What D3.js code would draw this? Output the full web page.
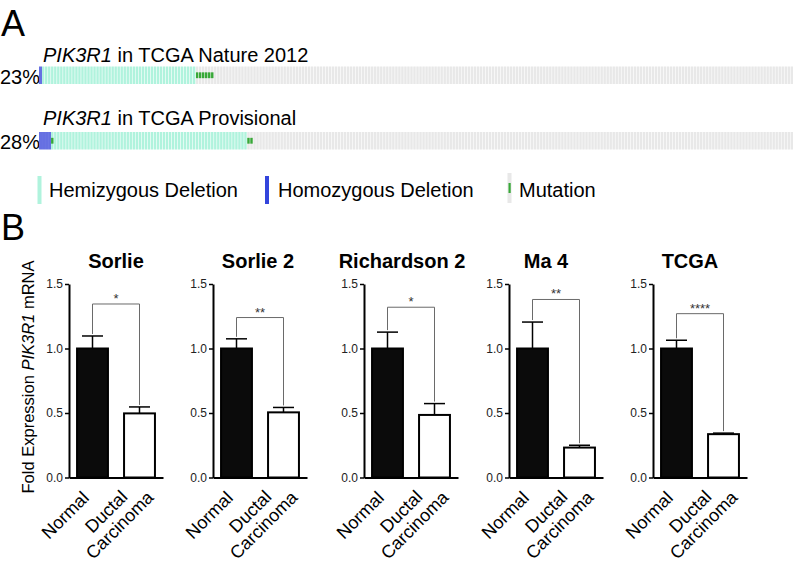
<!DOCTYPE html>
<html lang="en">
<head>
<meta charset="UTF-8">
<title>PIK3R1 alterations and expression</title>
<script src="https://cdn.jsdelivr.net/npm/d3@7"></script>
<style>
    body { margin: 0; background: #fff; }
    svg text { font-family: "Liberation Sans", Arial, Helvetica, sans-serif; }
</style>
</head>
<body>
<script>
// ---------- panel A: oncoprint tracks ----------
var trackGenes = ["PIK3R1", "PIK3R1"];
var trackStudies = [" in TCGA Nature 2012", " in TCGA Provisional"];
var trackPercents = ["23%", "28%"];
var trackSampleTotals = [250, 250];
var homdelCounts = [1, 4];
var hetlossCounts = [51, 65];
var mutationOnlyCounts = [6, 2];
var mutatedCnaSamples = [[], [4]];   // index of CNA samples that also carry a mutation
var legendLabels = ["Hemizygous Deletion", "Homozygous Deletion", "Mutation"];

// ---------- panel B: fold expression ----------
var datasets = ["Sorlie", "Sorlie 2", "Richardson 2", "Ma 4", "TCGA"];
var groups = ["Normal", "Ductal Carcinoma"];
var normalMeans = [1.0, 1.0, 1.0, 1.0, 1.0];
var normalErrors = [0.097, 0.075, 0.127, 0.205, 0.064];
var ductalMeans = [0.497, 0.505, 0.485, 0.232, 0.336];
var ductalErrors = [0.05, 0.038, 0.088, 0.018, 0.008];
var significance = ["*", "**", "*", "**", "****"];
var bracketLevels = [1.345, 1.24, 1.32, 1.38, 1.27];
var yTickValues = [0, 0.5, 1.0, 1.5];
var yLabelParts = ["Fold Expression ", "PIK3R1", " mRNA"];

// ---------- layout ----------
var width = 793, height = 566;
var trackLeft = 39, trackRight = 793;
var trackTops = [66.5, 132];
var trackHeight = 17.5;
var titleBaselines = [62, 125];
var legendSwatchX = [37.5, 265, 507.5];
var legendTextX = [49, 278, 519];
var panelX = [69, 213, 364, 509, 653];
var titleX = [116, 258, 402, 546, 690];
var plotWidth = 94;

var colors = {
    none: "#e8e8e8",
    hetloss: "#b0f3dd",
    homdel: "#6670e2",
    homdelLegend: "#3345dc",
    mutation: "#38a838"
};

var svg = d3.select("body").append("svg")
    .attr("width", width)
    .attr("height", height);

// panel letters
svg.append("text").attr("x", 1).attr("y", 36).attr("font-size", 36).text("A");
svg.append("text").attr("x", 1).attr("y", 240).attr("font-size", 36).text("B");

// build sample list for each track
var buildSamples = function(t) {
    var out = [];
    for (var i = 0; i < homdelCounts[t]; i++) out.push({cna: "homdel", mut: false});
    for (var j = 0; j < hetlossCounts[t]; j++) out.push({cna: "hetloss", mut: false});
    mutatedCnaSamples[t].forEach(function(k) { out[k].mut = true; });
    for (var m = 0; m < mutationOnlyCounts[t]; m++) out.push({cna: "none", mut: true});
    while (out.length < trackSampleTotals[t]) out.push({cna: "none", mut: false});
    return out;
};

trackGenes.forEach(function(gene, t) {
    var samples = buildSamples(t);
    var xs = d3.scaleBand()
        .domain(d3.range(samples.length))
        .range([trackLeft, trackRight])
        .paddingInner(0.2);

    var title = svg.append("text")
        .attr("x", 43).attr("y", titleBaselines[t])
        .attr("font-size", 20);
    title.append("tspan").attr("font-style", "italic").text(gene);
    title.append("tspan").text(trackStudies[t]);

    svg.append("text")
        .attr("x", 0).attr("y", trackTops[t] + trackHeight - 0.5)
        .attr("font-size", 20)
        .text(trackPercents[t]);

    var g = svg.append("g");
    g.selectAll("rect.cell")
        .data(samples)
        .enter().append("rect")
        .attr("class", "cell")
        .attr("x", function(d, i) { return xs(i); })
        .attr("y", trackTops[t])
        .attr("width", function(d) { return d.cna === "homdel" ? xs.step() : xs.bandwidth(); })
        .attr("height", trackHeight)
        .attr("fill", function(d) { return colors[d.cna]; });

    g.selectAll("rect.mut")
        .data(samples.map(function(d, i) { return {i: i, mut: d.mut}; }).filter(function(d) { return d.mut; }))
        .enter().append("rect")
        .attr("class", "mut")
        .attr("x", function(d) { return xs(d.i); })
        .attr("y", trackTops[t] + trackHeight / 3)
        .attr("width", xs.bandwidth())
        .attr("height", trackHeight / 3)
        .attr("fill", colors.mutation);
});

// legend
var legendTop = 176, legendH = 28;
svg.append("rect").attr("x", legendSwatchX[0]).attr("y", legendTop)
    .attr("width", 4).attr("height", legendH).attr("fill", colors.hetloss);
svg.append("rect").attr("x", legendSwatchX[1]).attr("y", legendTop)
    .attr("width", 4).attr("height", legendH).attr("fill", colors.homdelLegend);
svg.append("rect").attr("x", legendSwatchX[2]).attr("y", legendTop - 3)
    .attr("width", 4).attr("height", legendH + 2).attr("fill", colors.none);
svg.append("rect").attr("x", legendSwatchX[2] + 1).attr("y", legendTop + 7)
    .attr("width", 2.2).attr("height", 10).attr("fill", colors.mutation);
legendLabels.forEach(function(label, i) {
    svg.append("text")
        .attr("x", legendTextX[i]).attr("y", 197)
        .attr("font-size", 20)
        .text(label);
});

// ---------- panel B ----------
var y = d3.scaleLinear().domain([0, 1.5]).range([477.5, 284]);
var x = d3.scaleBand().domain(groups).range([0, plotWidth])
    .paddingInner(0.3).paddingOuter(0.15);

var yLabel = svg.append("text")
    .attr("transform", "translate(33.5," + 377 + ") rotate(-90)")
    .attr("text-anchor", "middle")
    .attr("font-size", 16.5);
yLabelParts.forEach(function(p, i) {
    yLabel.append("tspan").attr("font-style", i === 1 ? "italic" : "normal").text(p);
});

datasets.forEach(function(name, p) {
    var g = svg.append("g").attr("transform", "translate(" + panelX[p] + ",0)");
    var means = [normalMeans[p], ductalMeans[p]];
    var errs = [normalErrors[p], ductalErrors[p]];
    var cx = function(i) { return x(groups[i]) + x.bandwidth() / 2; };

    svg.append("text")
        .attr("x", titleX[p]).attr("y", 268)
        .attr("text-anchor", "middle")
        .attr("font-size", 20)
        .attr("font-weight", "bold")
        .text(name);

    // error bars (upper whisker only)
    groups.forEach(function(grp, i) {
        var top = y(means[i] + errs[i]);
        g.append("line")
            .attr("x1", cx(i)).attr("x2", cx(i))
            .attr("y1", y(means[i])).attr("y2", top)
            .attr("stroke", "#000").attr("stroke-width", 1.5);
        g.append("line")
            .attr("x1", cx(i) - 10.5).attr("x2", cx(i) + 10.5)
            .attr("y1", top).attr("y2", top)
            .attr("stroke", "#000").attr("stroke-width", 1.5);
    });

    g.selectAll("rect.bar")
        .data(groups)
        .enter().append("rect")
        .attr("class", "bar")
        .attr("x", function(d) { return x(d) + 1; })
        .attr("width", x.bandwidth() - 2)
        .attr("y", function(d, i) { return y(means[i]); })
        .attr("height", function(d, i) { return y(0) - y(means[i]); })
        .attr("fill", function(d, i) { return i === 0 ? "#0b0b0b" : "#fff"; })
        .attr("stroke", "#000")
        .attr("stroke-width", 2);

    // significance bracket
    var by = y(bracketLevels[p]);
    g.append("path")
        .attr("d", "M" + cx(0) + "," + (y(means[0] + errs[0]) - 2) +
                   "V" + by + "H" + cx(1) +
                   "V" + (y(means[1] + errs[1]) - 2))
        .attr("fill", "none")
        .attr("stroke", "#6a6a6a")
        .attr("stroke-width", 1);
    g.append("text")
        .attr("x", (cx(0) + cx(1)) / 2).attr("y", by - 1)
        .attr("text-anchor", "middle")
        .attr("font-size", 13)
        .attr("fill", "#333")
        .text(significance[p]);

    // axes
    var yAxis = g.append("g")
        .call(d3.axisLeft(y).tickValues(yTickValues).tickFormat(d3.format(".1f"))
            .tickSize(4).tickSizeOuter(0).tickPadding(2));
    yAxis.select(".domain").attr("stroke-width", 2);
    yAxis.selectAll(".tick line").attr("stroke-width", 1.5);
    yAxis.selectAll(".tick text").attr("font-size", 12)
        .attr("font-family", "Liberation Sans, Arial, sans-serif").attr("fill", "#222");

    var xAxis = g.append("g")
        .attr("transform", "translate(0," + y(0) + ")")
        .call(d3.axisBottom(x).tickSize(0).tickSizeOuter(0).tickFormat(""));
    xAxis.select(".domain").attr("stroke-width", 2.2);

    // rotated category labels
    groups.forEach(function(grp, i) {
        var lines = grp.split(" ");
        var single = lines.length === 1;
        var ax = cx(i) + (single ? -7 : 4);
        var ay = y(0) + (single ? 17 : 10);
        var lg = g.append("g")
            .attr("transform", "translate(" + ax + "," + ay + ") rotate(-45)");
        var lh = 19;
        var texts = lines.map(function(ln, k) {
            return lg.append("text")
                .attr("y", (k - (lines.length - 1) / 2) * lh)
                .attr("dy", "0.35em")
                .attr("text-anchor", "end")
                .attr("font-size", 18)
                .text(ln);
        });
        var widths = texts.map(function(t) { return t.node().getComputedTextLength(); });
        var maxW = d3.max(widths);
        texts.forEach(function(t, k) { t.attr("x", -(maxW - widths[k]) / 2); });
    });
});
</script>
</body>
</html>
